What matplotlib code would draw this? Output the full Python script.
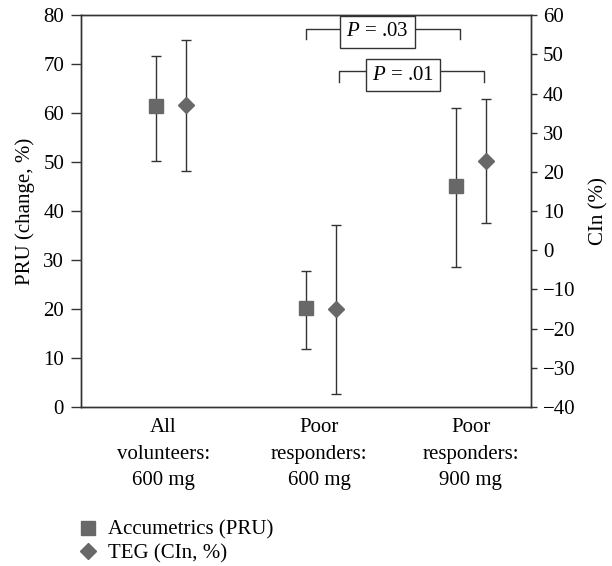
import matplotlib
matplotlib.use('Agg')
import matplotlib.pyplot as plt
from matplotlib.lines import Line2D

plt.rcParams['font.family'] = ['Liberation Serif', 'DejaVu Serif']
plt.rcParams['mathtext.fontset'] = 'custom'
plt.rcParams['mathtext.it'] = 'Liberation Serif:italic'
plt.rcParams['mathtext.rm'] = 'Liberation Serif'

groups = ["All\nvolunteers:\n600 mg", "Poor\nresponders:\n600 mg", "Poor\nresponders:\n900 mg"]
label_pos = [0.55, 1.59, 2.60]
pru_x = [0.5, 1.5, 2.5]
teg_x = [0.7, 1.7, 2.7]

# Accumetrics PRU (left axis), change %
pru_mean = [61.5, 20.3, 45.2]
pru_low = [50.3, 11.8, 28.6]
pru_high = [71.6, 27.8, 61.0]

# TEG CIn % (right axis)
teg_mean = [37.0, -15.1, 22.7]
teg_low = [20.2, -36.8, 6.9]
teg_high = [53.8, 6.4, 38.6]

grey = "#686868"
line_col = "#333333"
fs = 15

fig = plt.figure(figsize=(6.12, 5.66), dpi=100)
ax = fig.add_axes([0.132, 0.281, 0.735, 0.692])
ax2 = ax.twinx()

ax.errorbar(pru_x, pru_mean,
            yerr=[[m - lo for m, lo in zip(pru_mean, pru_low)],
                  [hi - m for m, hi in zip(pru_mean, pru_high)]],
            fmt='s', color=grey, ms=10, ecolor=line_col, elinewidth=1.0,
            capsize=3.6, capthick=1.0, zorder=3)
ax2.errorbar(teg_x, teg_mean,
             yerr=[[m - lo for m, lo in zip(teg_mean, teg_low)],
                   [hi - m for m, hi in zip(teg_mean, teg_high)]],
             fmt='D', color=grey, ms=8.5, ecolor=line_col, elinewidth=1.0,
             capsize=3.6, capthick=1.0, zorder=3)

ax.set_xlim(0, 3)
ax.set_ylim(0, 80)
ax2.set_ylim(-40, 60)
ax.set_yticks(range(0, 81, 10))
ax2.set_yticks(range(-40, 61, 10))
ax.set_xticks(label_pos)
ax.set_xticklabels(groups, fontsize=fs, linespacing=1.55)
ax.tick_params(axis='x', length=0, pad=8)
ax.tick_params(axis='y', direction='out', length=7, width=1, labelsize=fs, color=line_col, pad=5)
ax2.tick_params(axis='y', direction='out', length=4.5, width=1, labelsize=fs, color=line_col, pad=4.5)
for a in (ax, ax2):
    for s in a.spines.values():
        s.set_color(line_col)
        s.set_linewidth(1.0)

ax.set_ylabel("PRU (change, %)", fontsize=fs, labelpad=6)
ax2.set_ylabel("CIn (%)", fontsize=fs, labelpad=10)

# significance brackets (left-axis coordinates)
brackets = [(1.50, 2.53, 77.1, 75.1, 1.98, 76.6, "$P$ = .03"),
            (1.72, 2.69, 68.6, 66.4, 2.15, 67.8, "$P$ = .01")]
for x0, x1, yl, yt, xc, yc, txt in brackets:
    ax.plot([x0, x0, x1, x1], [yt, yl, yl, yt], color=line_col, lw=1.0, zorder=2, clip_on=False)
    ax.text(xc, yc, txt, ha='center', va='center', fontsize=fs, zorder=4,
            bbox=dict(boxstyle='square,pad=0.3', fc='white', ec=line_col, lw=1.0))

handles = [Line2D([], [], marker='s', color=grey, ls='', ms=9.6),
           Line2D([], [], marker='D', color=grey, ls='', ms=7.8)]
fig.legend(handles, ["Accumetrics (PRU)", "TEG (CIn, %)"], loc='upper left',
           bbox_to_anchor=(0.109, 0.099), frameon=False, fontsize=fs,
           handlelength=1.0, handletextpad=0.5, labelspacing=0.2, borderpad=0)

fig.savefig("out.png", dpi=100)
plt.close(fig)
